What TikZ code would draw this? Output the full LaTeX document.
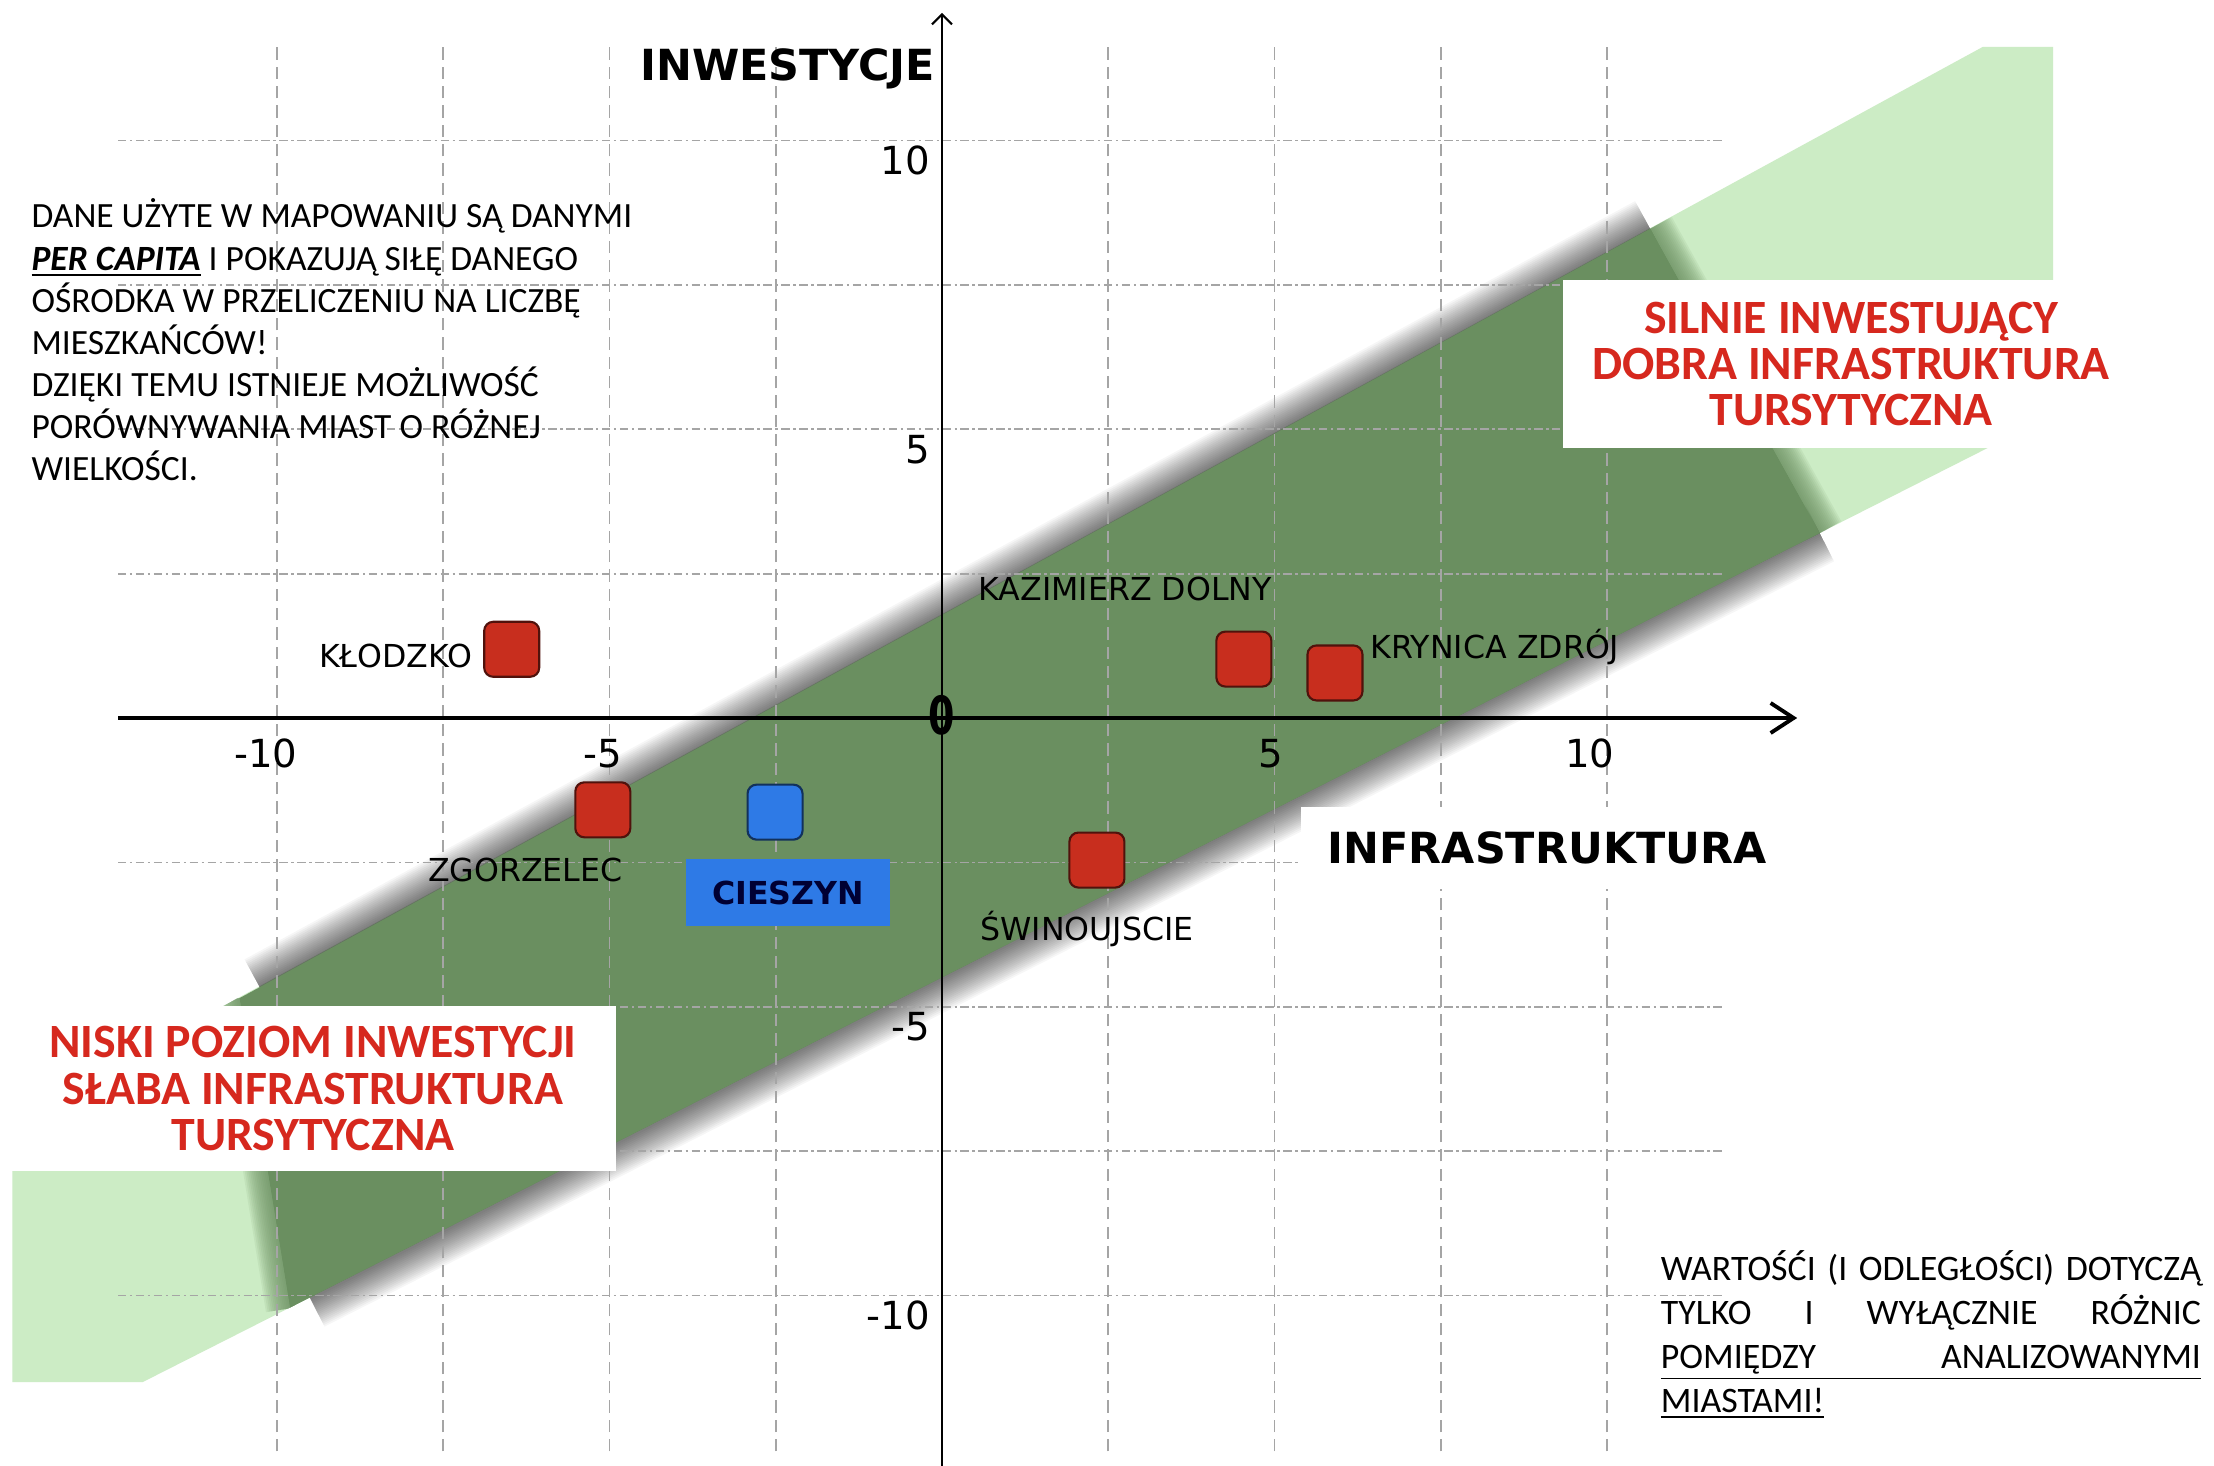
\documentclass[tikz,border=0pt]{standalone}
\usepackage{fontspec}
\usepackage{graphicx}
\setmainfont{Carlito}
\newfontfamily\axisfont{DejaVu Sans}
\usetikzlibrary{positioning,arrows.meta}
\definecolor{bandlight}{RGB}{204,236,197}
\definecolor{banddark}{RGB}{106,143,96}
\definecolor{cityred}{RGB}{200,46,30}
\definecolor{cityblue}{RGB}{46,122,230}
\definecolor{labelred}{RGB}{214,40,30}
\definecolor{gridgray}{RGB}{165,165,165}
\newcommand{\fullline}[1]{\makebox[5.4cm][s]{#1}}

\begin{document}
\begin{tikzpicture}[x=0.665cm, y=0.5775cm,
    gridv/.style={gridgray, line width=0.5pt, dash pattern=on 3.5pt off 2pt},
    gridh/.style={gridgray, line width=0.5pt, dash pattern=on 2.4pt off 1pt on 0.7pt off 1pt},
    city/.style={draw=black!60!cityred, fill=cityred, line width=0.6pt, rounded corners=0.9mm,
      minimum size=5.5mm, inner sep=0pt},
    citylabel/.style={font=\axisfont\fontsize{9}{10}\selectfont, inner sep=0pt},
    citybox/.style={fill=cityblue, text=black!80!blue, font=\axisfont\bfseries\fontsize{9}{10}\selectfont,
      minimum width=2.04cm, minimum height=0.67cm, inner sep=0pt},
    tick/.style={font=\axisfont\fontsize{11}{12}\selectfont, inner sep=0pt},
    axistitle/.style={font=\axisfont\bfseries\fontsize{12.2}{14}\selectfont, inner sep=0pt},
    zone/.style={fill=white, text=labelred, align=center, inner sep=0pt,
      font=\bfseries\fontsize{13.6}{13.2}\selectfont},
    note/.style={align=left, inner sep=0pt, font=\fontsize{10.1}{12}\selectfont}]

  \path[use as bounding box, fill=white] (-14.165,-12.952) rectangle (19.128,12.433);

  \coordinate (lighttl) at (-13.98,-6.98);
  \coordinate (lighttr) at (15.65,11.62);
  \coordinate (darktl) at (-10.56,-4.85);
  \coordinate (darktr) at (10.65,8.47);
  \coordinate (darkbr) at (13.20,3.20);
  \coordinate (darkbl) at (-9.80,-10.22);

  \fill[bandlight] (lighttl) -- (lighttr) -- (16.71,11.62) -- (16.71,5.25)
    -- (-12.02,-11.50) -- (-13.98,-11.50) -- cycle;
  \foreach \w in {1,...,18} {
    \draw[black, opacity=0.035, line width=\w pt] ([shift={(0.3,0.19)}]darktl) -- (darktr);
    \draw[black, opacity=0.035, line width=\w pt] ([shift={(0.3,0.17)}]darkbl) -- (darkbr);
  }
  \begin{scope}
    \clip (lighttl) -- (lighttr) -- (16.71,11.62) -- (16.71,5.25)
      -- (-12.02,-11.50) -- (-13.98,-11.50) -- cycle;
    \fill[banddark] (darktl) -- (darktr) -- (darkbr) -- (darkbl) -- cycle;
    \foreach \w in {1,...,14} {
      \draw[banddark, opacity=0.1, line width=\w pt] (darktr) -- (darkbr);
      \draw[banddark, opacity=0.1, line width=\w pt] (darktl) -- (darkbl);
    }
  \end{scope}

  \foreach \g in {-10,-7.5,-5,-2.5,2.5,5,7.5,10} {
    \draw[gridv] (\g,-12.7) -- (\g,11.69);
    \draw[gridh] (-12.39,\g) -- (11.77,\g);
  }

  \coordinate (xl) at (-12.39,0);
  \coordinate (xr) at (12.86,0);
  \coordinate (yb) at (0,-12.95);
  \coordinate (yt) at (0,12.21);
  \draw[line width=1.1pt, -{Straight Barb[length=2.3mm,width=3mm]}] (xl) -- (xr);
  \draw[line width=0.6pt, -{Straight Barb[length=1mm,width=2mm]}] (yb) -- (yt);

  \foreach \v/\p/\n in {-10/-10.17/xa,-5/-5.10/xb,5/4.95/xc,10/9.74/xd}
    \node[tick] (\n) at (\p,-0.62) {\v};
  \foreach \v/\n in {-10/ya,-5/yb,5/yc,10/yd}
    \node[tick, anchor=east] (\n) at (-0.17,\v-0.35) {\v};
  \node[font=\axisfont\bfseries\fontsize{15}{16}\selectfont, inner sep=0pt] (zero) at (0,0.05)
    {\scalebox{0.72}[1]{0}};

  \node[axistitle] (invest) at (-2.32,11.24) {INWESTYCJE};
  \node[axistitle, fill=white, inner xsep=2.7mm, inner ysep=2.5mm] (infra) at (9.10,-2.25)
    {INFRASTRUKTURA};

  \node[zone, minimum width=5.77cm, minimum height=1.68cm] (strong) at (13.67,6.13)
    {SILNIE INWESTUJĄCY\\DOBRA INFRASTRUKTURA\\TURSYTYCZNA};
  \node[zone, minimum width=6.07cm, minimum height=1.65cm] (weak) at (-9.46,-6.42)
    {NISKI POZIOM INWESTYCJI\\SŁABA INFRASTRUKTURA\\TURSYTYCZNA};

  \node[note, anchor=west] (percapita) at (-13.70,6.545)
    {DANE UŻYTE W MAPOWANIU SĄ DANYMI\\
     \underline{\textbf{\textit{PER CAPITA}}} I POKAZUJĄ SIŁĘ DANEGO\\
     OŚRODKA W PRZELICZENIU NA LICZBĘ\\
     MIESZKAŃCÓW!\\
     DZIĘKI TEMU ISTNIEJE MOŻLIWOŚĆ\\
     PORÓWNYWANIA MIAST O RÓŻNEJ\\
     WIELKOŚCI.};
  \node[note, anchor=west, font=\fontsize{10.2}{12.5}\selectfont] (values) at (10.80,-10.68)
    {\fullline{WARTOŚĆI (I ODLEGŁOŚCI) DOTYCZĄ}\\
     \fullline{TYLKO \hfill I \hfill WYŁĄCZNIE \hfill RÓŻNIC}\\
     \underline{\fullline{POMIĘDZY \hfill ANALIZOWANYMI}}\\
     \underline{MIASTAMI!}};

  \node[city] (klodzko) at (-6.47,1.19) {};
  \node[city] (zgorzelec) at (-5.10,-1.59) {};
  \node[city, fill=cityblue, draw=black!60!cityblue] (cieszyn) at (-2.51,-1.63) {};
  \node[city] (kazimierz) at (4.54,1.02) {};
  \node[city] (krynica) at (5.91,0.78) {};
  \node[city] (swinoujscie) at (2.33,-2.46) {};

  \node[citylabel, left=1mm of klodzko, yshift=-0.7mm] (klodzkolabel) {KŁODZKO};
  \node[citylabel, anchor=north east] (zgorzeleclabel)
    at ([xshift=-0.8mm,yshift=-1.9mm]zgorzelec.south east) {ZGORZELEC};
  \node[citybox, below=1.8mm of cieszyn, xshift=1.3mm] (cieszynlabel) {CIESZYN};
  \node[citylabel, anchor=south east] (kazimierzlabel)
    at ([yshift=2.9mm]kazimierz.north east) {KAZIMIERZ DOLNY};
  \node[citylabel, anchor=base west] (krynicalabel)
    at ([xshift=0.6mm,yshift=-1.4mm]krynica.north east) {KRYNICA ZDRÓJ};
  \node[citylabel, anchor=base] (swinoujscielabel)
    at ([xshift=-1mm,yshift=-5.2mm]swinoujscie.south) {ŚWINOUJSCIE};
\end{tikzpicture}
\end{document}
